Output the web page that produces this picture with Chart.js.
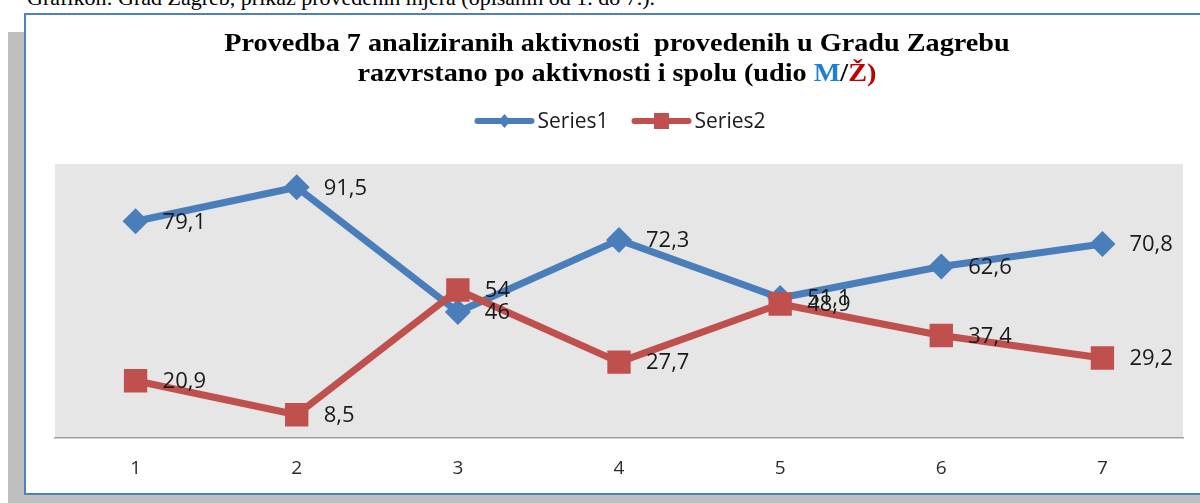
<!DOCTYPE html>
<html lang="hr">
<head>
<meta charset="utf-8">
<script src="https://cdn.jsdelivr.net/npm/chart.js"></script>
<title>Provedba 7 analiziranih aktivnosti</title>
<style>
    body {
        margin: 0;
        width: 1200px;
        height: 503px;
        overflow: hidden;
        position: relative;
        background: #fff;
        font-family: "Liberation Serif", "Times New Roman", serif;
    }
    .caption {
        position: absolute;
        left: 27px;
        top: -13px;
        font-size: 22px;
        line-height: 22px;
        white-space: nowrap;
        color: #000;
    }
    .shade {
        position: absolute;
        left: 8px;
        top: 32px;
        right: 0;
        bottom: 0;
        background: #bfbfbf;
    }
    .frame {
        position: absolute;
        left: 24px;
        top: 13px;
        width: 1300px;
        height: 482px;
        box-sizing: border-box;
        border: 2px solid #4f81bd;
        background: #fff;
    }
    .title {
        position: absolute;
        left: 0;
        width: 1234px;
        text-align: center;
        font-weight: bold;
        font-size: 26px;
        line-height: 26px;
        white-space: pre;
        color: #000;
        transform: scaleX(1.085);
        transform-origin: 617px 0;
        z-index: 2;
    }
    .m { color: #1f7fd6; }
    .z { color: #c00000; }
    #chart {
        position: absolute;
        left: 0;
        top: 0;
        z-index: 1;
    }
</style>
</head>
<body>
    <div class="caption">Grafikon: Grad Zagreb, prikaz provedenih mjera (opisanih od 1. do 7.).</div>
    <div class="shade"></div>
    <div class="frame"></div>
    <div class="title" style="top:30px">Provedba 7 analiziranih aktivnosti  provedenih u Gradu Zagrebu</div>
    <div class="title" style="top:60px">razvrstano po aktivnosti i spolu (udio <span class="m">M</span>/<span class="z">Ž)</span></div>
    <canvas id="chart" width="1200" height="503"></canvas>
<script>
    var categories = ["1", "2", "3", "4", "5", "6", "7"];
    var series1 = [79.1, 91.5, 46, 72.3, 51.1, 62.6, 70.8];
    var series2 = [20.9, 8.5, 54, 27.7, 48.9, 37.4, 29.2];
    var seriesNames = ["Series1", "Series2"];
    var yMin = 0;
    var yMax = 100;

    var blue = "#4a7ebb";
    var red = "#c0504d";
    var sansFont = '"Open Sans", "Noto Sans", sans-serif';

    // grey plot area like the Excel chart
    var plotBackground = {
        id: "plotBackground",
        beforeDraw: function(chart) {
            var a = chart.chartArea;
            var ctx = chart.ctx;
            ctx.save();
            ctx.fillStyle = "#e6e6e6";
            ctx.fillRect(a.left, a.top, a.right - a.left, a.bottom - a.top);
            ctx.restore();
        }
    };

    // value next to every point, decimal comma
    var valueLabels = {
        id: "valueLabels",
        afterDatasetsDraw: function(chart) {
            var ctx = chart.ctx;
            ctx.save();
            ctx.font = "22px " + sansFont;
            ctx.fillStyle = "#1a1a1a";
            ctx.textAlign = "left";
            ctx.textBaseline = "middle";
            chart.data.datasets.forEach(function(ds, i) {
                var meta = chart.getDatasetMeta(i);
                meta.data.forEach(function(pt, j) {
                    var txt = String(ds.data[j]).replace(".", ",");
                    ctx.fillText(txt, pt.x + 27, pt.y + 1);
                });
            });
            ctx.restore();
        }
    };

    function legendMarker(ctx, style, x, y) {
        ctx.beginPath();
        if (style === "rectRot") {
            ctx.moveTo(x, y - 7);
            ctx.lineTo(x + 6, y);
            ctx.lineTo(x, y + 7);
            ctx.lineTo(x - 6, y);
        } else {
            ctx.rect(x - 7.5, y - 8, 15, 16);
        }
        ctx.closePath();
        ctx.fill();
    }

    // legend with line + marker like Excel
    var lineLegend = {
        id: "lineLegend",
        afterDraw: function(chart) {
            var ctx = chart.ctx;
            var lineLen = 60;
            var gap = 3;
            var spacing = 23;
            var y = 121;
            ctx.save();
            ctx.font = "21px " + sansFont;
            var items = chart.data.datasets.map(function(ds) {
                return { ds: ds, w: ctx.measureText(ds.label).width };
            });
            var total = 0;
            items.forEach(function(it, i) {
                total += lineLen + gap + it.w + (i < items.length - 1 ? spacing : 0);
            });
            var x = 620 - total / 2;
            items.forEach(function(it) {
                ctx.strokeStyle = it.ds.borderColor;
                ctx.fillStyle = it.ds.borderColor;
                ctx.lineWidth = 6;
                ctx.lineCap = "round";
                ctx.beginPath();
                ctx.moveTo(x + 3, y);
                ctx.lineTo(x + lineLen - 3, y);
                ctx.stroke();
                legendMarker(ctx, it.ds.pointStyle, x + lineLen / 2, y);
                ctx.fillStyle = "#1a1a1a";
                ctx.textAlign = "left";
                ctx.textBaseline = "middle";
                ctx.fillText(it.ds.label, x + lineLen + gap, y + 1);
                x += lineLen + gap + it.w + spacing;
            });
            ctx.restore();
        }
    };

    var ctx = document.getElementById("chart").getContext("2d");
    var chart = new Chart(ctx, {
        type: "line",
        data: {
            labels: categories,
            datasets: [
                {
                    label: seriesNames[0],
                    data: series1,
                    borderColor: blue,
                    backgroundColor: blue,
                    borderWidth: 7,
                    borderJoinStyle: "round",
                    borderCapStyle: "round",
                    pointStyle: "rectRot",
                    pointRadius: 13,
                    pointBorderWidth: 0,
                    pointBackgroundColor: blue,
                    tension: 0,
                    order: 1
                },
                {
                    label: seriesNames[1],
                    data: series2,
                    borderColor: red,
                    backgroundColor: red,
                    borderWidth: 7,
                    borderJoinStyle: "round",
                    borderCapStyle: "round",
                    pointStyle: "rect",
                    pointRadius: 16.5,
                    pointBorderWidth: 0,
                    pointBackgroundColor: red,
                    tension: 0,
                    order: 0
                }
            ]
        },
        options: {
            responsive: false,
            animation: false,
            layout: {
                padding: { left: 55, right: 17, top: 164, bottom: 0 }
            },
            plugins: {
                legend: { display: false },
                title: { display: false },
                tooltip: { enabled: false }
            },
            scales: {
                x: {
                    type: "category",
                    offset: true,
                    grid: { display: false, drawTicks: false },
                    border: { display: true, color: "#a0a0a0", width: 1.5 },
                    ticks: {
                        padding: 19,
                        color: "#2b2b2b",
                        font: { family: sansFont, size: 19 }
                    },
                    afterFit: function(scale) {
                        scale.height = 65;
                    }
                },
                y: {
                    display: false,
                    min: yMin,
                    max: yMax
                }
            }
        },
        plugins: [plotBackground, valueLabels, lineLegend]
    });
</script>
</body>
</html>
